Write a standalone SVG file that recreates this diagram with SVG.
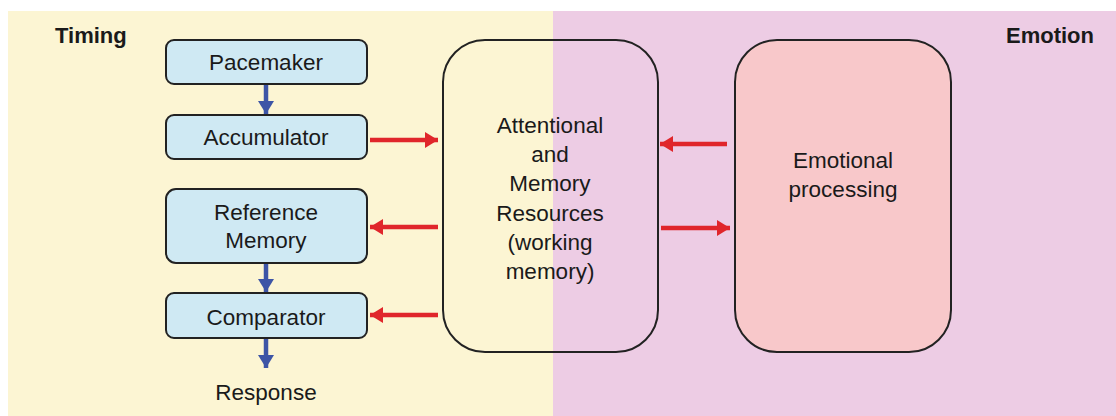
<svg xmlns="http://www.w3.org/2000/svg" width="1116" height="416" viewBox="0 0 1116 416">
<defs>
<marker id="redHead" viewBox="0 0 13 16" refX="13" refY="8" markerWidth="13" markerHeight="16" markerUnits="userSpaceOnUse" orient="auto"><path d="M0,0 L13,8 L0,16 Z" fill="#E0262B"/></marker>
<marker id="blueHead" viewBox="0 0 16 13" refX="8" refY="13" markerWidth="16" markerHeight="13" markerUnits="userSpaceOnUse" orient="0"><path d="M0,0 L16,0 L8,13 Z" fill="#3D55A6"/></marker>
</defs>
<style>
text{font-family:"Liberation Sans",Arial,sans-serif;fill:#1a1a1a;text-anchor:middle}
.t{font-size:22.5px}
.h{font-size:22px;font-weight:bold;text-anchor:start}
.small{fill:#CFE9F3;stroke:#222;stroke-width:2}
.big{stroke:#222;stroke-width:2}
.red{stroke:#E0262B;stroke-width:4.5;fill:none;marker-end:url(#redHead)}
.blue{stroke:#3D55A6;stroke-width:4.5;fill:none;marker-end:url(#blueHead)}
</style>
<rect x="0" y="0" width="1116" height="416" fill="#ffffff"/>
<rect x="8" y="11" width="545" height="405" fill="#FCF5D3"/>
<rect x="553" y="11" width="563" height="405" fill="#EDCCE4"/>
<text class="h" x="55" y="43">Timing</text>
<text class="h" x="1006" y="43">Emotion</text>
<g id="pacemaker"><rect class="small" x="166" y="40" width="201" height="44" rx="8"/><text class="t" x="266" y="70">Pacemaker</text></g>
<g id="accumulator"><rect class="small" x="166" y="115" width="201" height="44" rx="8"/><text class="t" x="266" y="145">Accumulator</text></g>
<g id="reference"><rect class="small" x="166" y="189" width="201" height="74" rx="10"/><text class="t" x="266" y="220">Reference</text><text class="t" x="266" y="248">Memory</text></g>
<g id="comparator"><rect class="small" x="166" y="293" width="201" height="45" rx="8"/><text class="t" x="266" y="325">Comparator</text></g>
<g id="response"><text class="t" x="266" y="400">Response</text></g>
<g id="attentional"><rect class="big" x="443" y="40" width="215" height="312" rx="42" fill="none"/>
<text class="t" x="550" y="133">Attentional</text><text class="t" x="550" y="162">and</text><text class="t" x="550" y="191">Memory</text><text class="t" x="550" y="221">Resources</text><text class="t" x="550" y="250">(working</text><text class="t" x="550" y="279">memory)</text></g>
<g id="emotional"><rect class="big" x="735" y="40" width="216" height="312" rx="42" fill="#F8C8CA"/>
<text class="t" x="843" y="168">Emotional</text><text class="t" x="843" y="197">processing</text></g>
<g id="connectors">
<line class="blue" x1="266" y1="85" x2="266" y2="114"/>
<line class="blue" x1="266" y1="264" x2="266" y2="292"/>
<line class="blue" x1="266" y1="339" x2="266" y2="368"/>
<line class="red" x1="370" y1="140" x2="438" y2="140"/>
<line class="red" x1="438" y1="227" x2="370" y2="227"/>
<line class="red" x1="438" y1="315" x2="370" y2="315"/>
<line class="red" x1="727" y1="144" x2="660" y2="144"/>
<line class="red" x1="661" y1="228" x2="730" y2="228"/>
</g>
</svg>
